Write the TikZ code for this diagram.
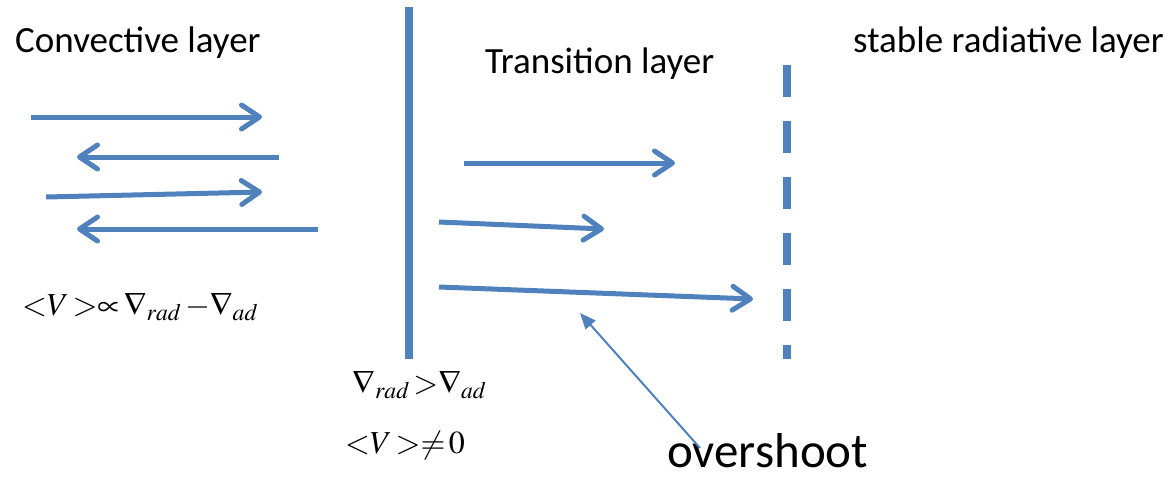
\documentclass[tikz,border=0pt]{standalone}
\usepackage{mathptmx}
\usepackage[no-math]{fontspec}
\setmainfont{Carlito}
\usetikzlibrary{arrows.meta}
\definecolor{flowblue}{HTML}{4F81BD}

\begin{document}
\begin{tikzpicture}[x=1pt,y=-1pt,
  flow/.style={draw=flowblue,line width=5pt,-{Straight Barb[length=18pt,width=24pt,round]}},
  lab/.style={font=\fontsize{37}{44}\selectfont,anchor=base west,inner sep=0pt},
  eq/.style={font=\fontsize{32}{38}\selectfont,anchor=base west,inner sep=0pt}]
\useasboundingbox (0,0) rectangle (1174,482);
% layer names
\node[lab] (conv) at (15,52) {Convective layer};
\node[lab] (trans) at (485,73) {Transition layer};
\node[lab] (stab) at (853,52) {stable radiative layer};
% boundaries: convective edge (solid) and overshoot limit (dashed)
\draw[flowblue,line width=8pt] (408.5,7)--(408.5,359);
\draw[flowblue,line width=8pt,dash pattern=on 32pt off 24pt] (787,65)--(787,359);
% convective flows, start/end
\foreach \i/\a/\b in {1/{31,117}/{262,117}, 2/{279,157}/{77,157}, 3/{46,197}/{262,192}, 4/{318,229}/{77,229}}{
  \coordinate (c\i s) at (\a); \coordinate (c\i e) at (\b);
  \draw[flow] (c\i s)--(c\i e);
}
% flows into the transition layer
\foreach \i/\a/\b in {1/{464,163}/{675,163}, 2/{439,222}/{604,229}, 3/{439,287}/{753,299}}{
  \coordinate (t\i s) at (\a); \coordinate (t\i e) at (\b);
  \draw[flow] (t\i s)--(t\i e);
}
% relations
\node[eq] (vprop) at (22,315) {$\mathord{<}V\,\mathord{>}\mathord{\propto}\,\nabla_{rad}\,{-}\nabla_{ad}$};
\node[eq] (grad) at (352,393) {$\nabla_{rad}\,\mathord{>}\nabla_{ad}$};
\node[eq] (vnz) at (345,453) {$\mathord{<}V\,\mathord{>}\mathord{\neq}\,0$};
% overshoot pointer
\node[font=\fontsize{49}{58}\selectfont,anchor=base west,inner sep=0pt] (os) at (667,467) {overshoot};
\coordinate (oss) at (700,448);
\coordinate (ose) at (580,313);
\draw[flowblue,line width=2pt,-{Triangle[length=16pt,width=13pt]}] (oss)--(ose);
\end{tikzpicture}
\end{document}
